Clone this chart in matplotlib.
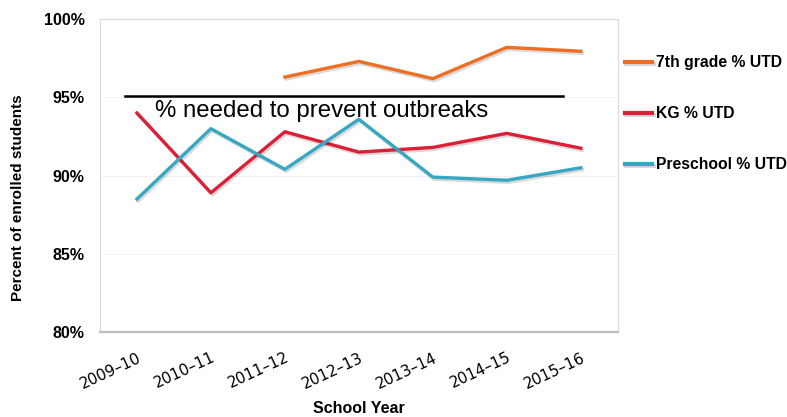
import matplotlib
matplotlib.use("Agg")
import matplotlib.pyplot as plt
import matplotlib.patheffects as pe

years = ["2009\u201310", "2010\u201311", "2011\u201312", "2012\u201313",
         "2013\u201314", "2014\u201315", "2015\u201316"]
grade7 = [None, None, 96.3, 97.3, 96.2, 98.2, 97.95]
kg = [94.0, 88.9, 92.8, 91.5, 91.8, 92.7, 91.75]
preschool = [88.5, 93.0, 90.4, 93.6, 89.9, 89.7, 90.5]
threshold = 95.1
threshold_label = "% needed to prevent outbreaks"

plt.rcParams['font.family'] = ['Liberation Sans', 'DejaVu Sans']

fig = plt.figure(figsize=(7.87, 4.17), dpi=100)
ax = fig.add_axes([0.127, 0.204, 0.658, 0.750])

x = list(range(len(years)))
shadow = [pe.SimpleLineShadow(offset=(1, -1.5), alpha=0.15, shadow_color="k"), pe.Normal()]

x7 = [i for i, v in zip(x, grade7) if v is not None]
y7 = [v for v in grade7 if v is not None]
ax.plot(x7, y7, color="#EE6E24", lw=2.4, label="7th grade % UTD", path_effects=shadow)
ax.plot(x, kg, color="#DC1F36", lw=2.4, label="KG % UTD", path_effects=shadow)
ax.plot(x, preschool, color="#37A7C2", lw=2.4, label="Preschool % UTD", path_effects=shadow)

# herd immunity threshold
ax.plot([-0.16, 5.76], [threshold, threshold], color="black", lw=1.8)
ax.text(0.24, 94.1, threshold_label, fontsize=17.3, va="center", ha="left")

ax.set_xlim(-0.5, 6.5)
ax.set_ylim(80, 100)
ax.set_yticks([80, 85, 90, 95, 100])
ax.set_yticklabels(["80%", "85%", "90%", "95%", "100%"], fontweight="bold", fontsize=11.5)
ax.set_xticks(x)
ax.set_xticklabels(years, rotation=25, ha="right", rotation_mode="anchor",
                   fontsize=11, family=["DejaVu Sans"])
ax.tick_params(axis="both", length=0)
ax.tick_params(axis="y", pad=11)
ax.tick_params(axis="x", pad=13)

ax.grid(axis="y", color="#f2f2f2", lw=0.8)
ax.set_axisbelow(True)
for side in ["left", "top", "right"]:
    ax.spines[side].set_color("#d9d9d9")
    ax.spines[side].set_linewidth(0.8)
ax.spines["bottom"].set_color("#bfbfbf")
ax.spines["bottom"].set_linewidth(1.6)

fig.text(18 / 787, 1 - 198 / 417, "Percent of enrolled students", rotation=90,
         fontweight="bold", fontsize=11, ha="center", va="center")
ax.set_xlabel("School Year", fontweight="bold", fontsize=11.5, labelpad=7)

leg = ax.legend(loc="upper left", bbox_to_anchor=(625 / 787, 1 - 55 / 417),
                bbox_transform=fig.transFigure, frameon=False, borderpad=0,
                borderaxespad=0, handlelength=1.75, handletextpad=0.2,
                labelspacing=2.3, prop={"weight": "bold", "size": 11.3})
for h in leg.get_lines():
    h.set_linewidth(3)

fig.savefig("out.png", dpi=100)
